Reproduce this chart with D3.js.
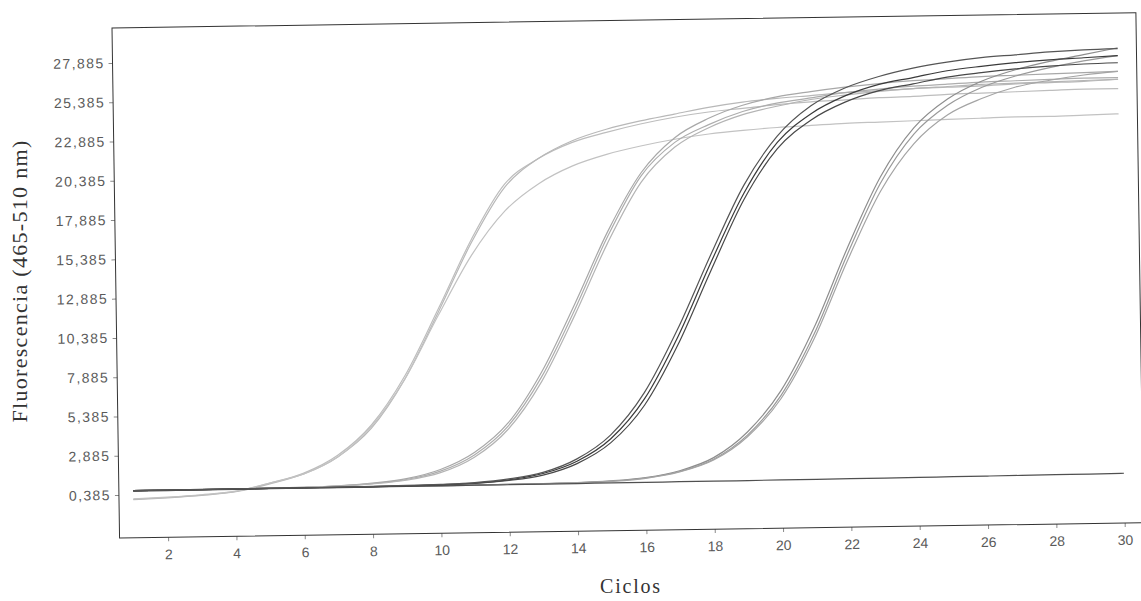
<!DOCTYPE html>
<html>
<head>
<meta charset="utf-8">
<script src="https://cdn.jsdelivr.net/npm/d3@7"></script>
<style>
  body { margin: 0; background: #fff; }
  .tick text { font-family: "Liberation Sans", Arial, sans-serif; font-size: 14px; fill: #5a5a5a; }
  .tick line { stroke: #8a8a8a; }
</style>
</head>
<body>
<div id="chart"></div>
<script>
// cycles and fluorescence readings (465-510 nm)
var cycles = [1,2,3,4,5,6,7,8,9,10,11,12,13,14,15,16,17,18,19,20,21,22,23,24,25,26,27,28,29,30];

// earliest group (3 wells)
var a1 = [0.10,0.18,0.30,0.50,1.00,1.60,2.70,4.60,7.70,11.9,16.3,19.8,21.4,22.4,23.0,23.5,23.9,24.2,24.4,24.6,24.75,24.85,24.95,25.0,25.1,25.15,25.2,25.25,25.3,25.3];
var a2 = [0.08,0.16,0.28,0.48,0.95,1.55,2.60,4.40,7.50,11.7,16.1,19.6,21.4,22.5,23.2,23.7,24.1,24.5,24.8,25.0,25.15,25.3,25.4,25.5,25.55,25.6,25.7,25.75,25.8,25.9];
var a3 = [0.12,0.20,0.32,0.52,1.00,1.55,2.60,4.50,7.50,11.5,15.3,18.1,19.8,20.9,21.6,22.1,22.5,22.8,23.0,23.15,23.25,23.35,23.4,23.45,23.5,23.55,23.6,23.6,23.65,23.7];

// second group
var b1 = [0.65,0.65,0.66,0.67,0.68,0.70,0.75,0.87,1.10,1.60,2.60,4.40,7.50,11.75,16.4,20.2,22.3,23.4,24.2,24.7,25.0,25.3,25.5,25.65,25.75,25.85,25.9,25.95,26.0,26.0];
var b2 = [0.65,0.65,0.66,0.67,0.68,0.70,0.76,0.90,1.15,1.70,2.75,4.60,7.80,12.1,16.7,20.4,22.6,23.8,24.6,25.1,25.4,25.65,25.85,26.0,26.1,26.2,26.25,26.3,26.35,26.4];
var b3 = [0.65,0.65,0.66,0.67,0.68,0.70,0.74,0.85,1.05,1.50,2.45,4.20,7.20,11.4,16.0,19.8,22.0,23.2,24.0,24.5,24.9,25.15,25.35,25.5,25.6,25.7,25.75,25.8,25.85,25.9];

// third group (dark traces)
var c1 = [0.65,0.65,0.65,0.66,0.66,0.67,0.67,0.68,0.70,0.73,0.80,0.98,1.35,2.10,3.50,6.00,9.90,14.6,19.0,22.2,24.0,25.1,25.8,26.2,26.6,26.85,27.05,27.2,27.3,27.4];
var c2 = [0.65,0.65,0.65,0.66,0.66,0.67,0.67,0.68,0.69,0.72,0.78,0.94,1.25,1.95,3.25,5.60,9.40,14.1,18.6,21.8,23.6,24.7,25.4,25.8,26.2,26.45,26.65,26.8,26.9,26.95];
var c3 = [0.65,0.65,0.65,0.66,0.66,0.67,0.68,0.69,0.72,0.76,0.84,1.04,1.42,2.25,3.75,6.40,10.4,15.1,19.5,22.6,24.5,25.6,26.3,26.8,27.15,27.4,27.55,27.7,27.8,27.85];

// latest group
var d1 = [0.65,0.65,0.65,0.65,0.66,0.66,0.66,0.67,0.67,0.68,0.68,0.69,0.71,0.74,0.82,1.00,1.40,2.20,3.80,6.40,10.4,15.4,19.9,23.0,24.8,25.9,26.6,27.1,27.5,27.9];
var d2 = [0.65,0.65,0.65,0.65,0.66,0.66,0.66,0.67,0.67,0.68,0.68,0.69,0.70,0.73,0.80,0.97,1.35,2.10,3.60,6.10,10.0,15.0,19.5,22.6,24.4,25.5,26.2,26.7,27.1,27.4];
var d3s = [0.65,0.65,0.65,0.65,0.66,0.66,0.66,0.67,0.67,0.68,0.68,0.69,0.70,0.72,0.79,0.95,1.32,2.05,3.50,5.90,9.70,14.6,19.0,22.0,23.8,24.8,25.5,25.9,26.2,26.4];

// negative control
var neg = [0.62,0.62,0.63,0.63,0.64,0.64,0.65,0.65,0.66,0.66,0.67,0.67,0.68,0.68,0.69,0.69,0.70,0.70,0.71,0.72,0.72,0.73,0.74,0.75,0.76,0.77,0.78,0.79,0.80,0.82];

var xTicks = [2,4,6,8,10,12,14,16,18,20,22,24,26,28,30];
var yTicks = [0.385,2.885,5.385,7.885,10.385,12.885,15.385,17.885,20.385,22.885,25.385,27.885];

var series = [
  {v: a1, color: "#bdbdbd"}, {v: a2, color: "#b8b8b8"}, {v: a3, color: "#c2c2c2"},
  {v: b1, color: "#adadad"}, {v: b2, color: "#a8a8a8"}, {v: b3, color: "#b4b4b4"},
  {v: d1, color: "#8e8e8e"}, {v: d2, color: "#999999"}, {v: d3s, color: "#a4a4a4"},
  {v: neg, color: "#505050"},
  {v: c1, color: "#3a3a3a"}, {v: c2, color: "#484848"}, {v: c3, color: "#555555"}
];

var width = 1024, height = 510;

var svg = d3.select("#chart")
    .append("svg")
    .attr("width", 1141)
    .attr("height", 601)
    .style("background", "#fff");

// the scan is slightly tilted, so the whole plot box is too
var g = svg.append("g")
    .attr("transform", "translate(112,28) rotate(-0.85)");

var x = d3.scaleLinear()
    .domain([0.58, 30.55])
    .range([0, width]);

var y = d3.scaleLinear()
    .domain([-2.35, 30.11])
    .range([height, 0]);

var es = d3.formatLocale({decimal: ",", thousands: ".", grouping: [3], currency: ["", ""]});
var fmt = es.format(".3f");

// x axis
var xa = g.append("g")
    .attr("transform", "translate(0," + height + ")")
    .call(d3.axisBottom(x).tickValues(xTicks).tickSize(4).tickPadding(8));
xa.select(".domain").remove();

// y axis
var ya = g.append("g")
    .call(d3.axisLeft(y).tickValues(yTicks).tickSize(4).tickPadding(4).tickFormat(fmt));
ya.select(".domain").remove();
ya.selectAll(".tick text").style("letter-spacing", "1.4px");

// curves
var line = d3.line()
    .x(function (d, i) { return x(cycles[i]); })
    .y(function (d) { return y(d); })
    .curve(d3.curveMonotoneX);

g.append("g")
    .selectAll("path")
    .data(series)
    .enter()
    .append("path")
    .attr("d", function (s) { return line(s.v); })
    .attr("fill", "none")
    .attr("stroke", function (s) { return s.color; })
    .attr("stroke-width", 1.2);

// plot frame
g.append("rect")
    .attr("width", width)
    .attr("height", height)
    .attr("fill", "none")
    .attr("stroke", "#333")
    .attr("stroke-width", 1);

// axis titles
svg.append("text")
    .attr("x", 631)
    .attr("y", 593)
    .style("text-anchor", "middle")
    .style("font-family", "'Liberation Serif', 'Times New Roman', serif")
    .style("font-size", "20px")
    .style("letter-spacing", "1.8px")
    .style("fill", "#333")
    .text("Ciclos");

svg.append("text")
    .attr("transform", "translate(27,281) rotate(-90)")
    .style("text-anchor", "middle")
    .style("font-family", "'Liberation Serif', 'Times New Roman', serif")
    .style("font-size", "22px")
    .style("letter-spacing", "1.3px")
    .style("fill", "#333")
    .text("Fluorescencia (465-510 nm)");
</script>
</body>
</html>
